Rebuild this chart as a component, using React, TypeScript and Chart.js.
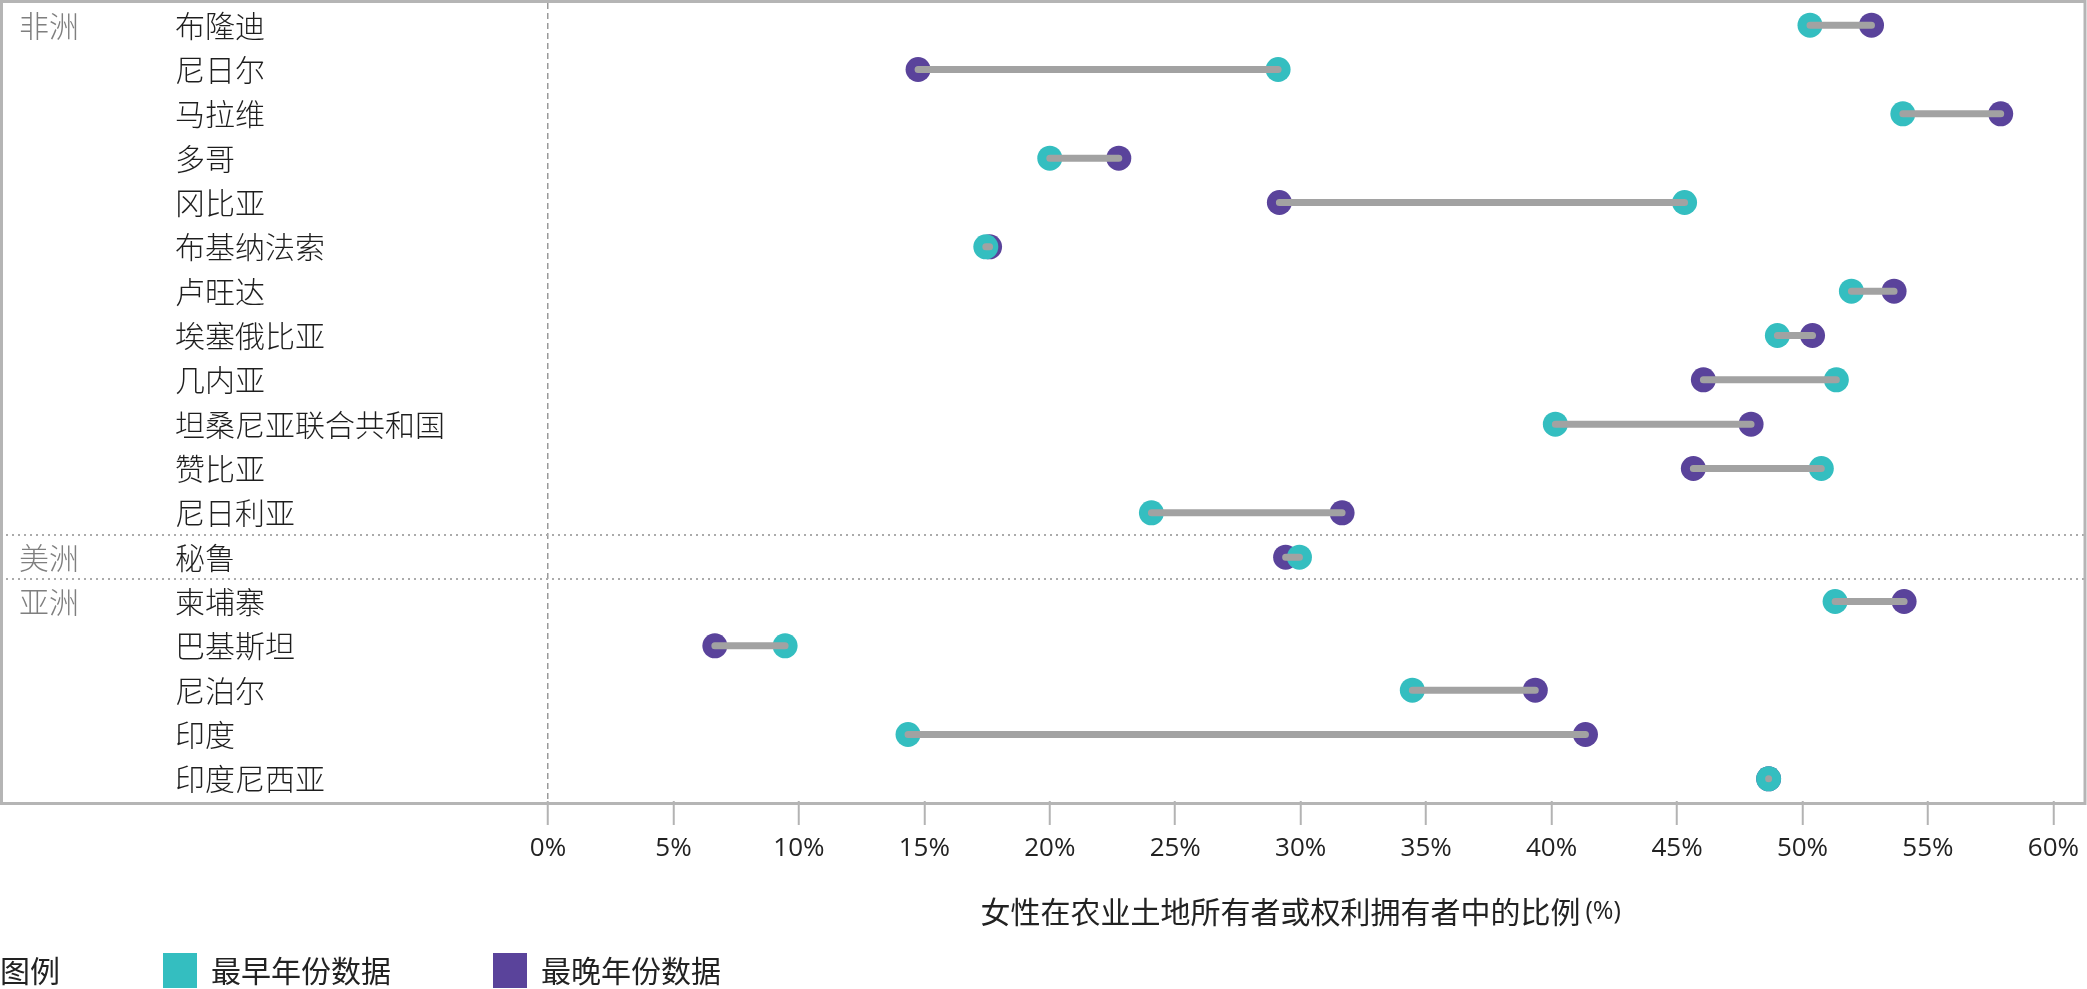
import React, { useEffect, useRef } from 'react';
import { Chart, registerables } from 'chart.js';

Chart.register(...registerables);

// ---------- data ----------
const regions = ['非洲', '美洲', '亚洲'];
const regionStartRows = [0, 12, 13];
const countries = [
  '布隆迪', '尼日尔', '马拉维', '多哥', '冈比亚', '布基纳法索', '卢旺达', '埃塞俄比亚', '几内亚',
  '坦桑尼亚联合共和国', '赞比亚', '尼日利亚', '秘鲁', '柬埔寨', '巴基斯坦', '尼泊尔', '印度', '印度尼西亚',
];
const earliestValues = [50.3, 29.1, 54.0, 20.0, 45.3, 17.45, 51.95, 49.0, 51.35, 40.15, 50.75, 24.05, 29.95, 51.3, 9.45, 34.45, 14.35, 48.65];
const latestValues = [52.75, 14.75, 57.9, 22.75, 29.15, 17.6, 53.65, 50.4, 46.05, 47.95, 45.65, 31.65, 29.4, 54.05, 6.65, 39.35, 41.35, 48.65];
const xTickValues = [0, 5, 10, 15, 20, 25, 30, 35, 40, 45, 50, 55, 60];
const seriesNames = ['最早年份数据', '最晚年份数据'];
const legendTitle = '图例';
const axisTitle = '女性在农业土地所有者或权利拥有者中的比例';
const axisTitleUnit = '(%)';

// ---------- style ----------
const TEAL = '#34BEC0';
const PURPLE = '#5A439B';
const CONNECTOR = '#A2A2A2';
const FRAME = '#B5B5B5';
const CJK = "'Noto Sans CJK SC', 'Noto Sans', sans-serif";
const LATIN = "'Open Sans', 'Noto Sans', sans-serif";
const W = 2087;
const H = 989;

const decorPlugin = {
  id: 'decor',
  beforeDatasetsDraw(chart: any) {
    const { ctx, scales } = chart;
    const y = scales.y;
    ctx.save();
    ctx.strokeStyle = '#ABABAB';
    ctx.lineWidth = 2;
    ctx.setLineDash([2, 4]);
    regionStartRows.slice(1).forEach((r) => {
      const py = Math.round(y.getPixelForValue(r - 0.5));
      ctx.beginPath();
      ctx.moveTo(0, py);
      ctx.lineTo(2085, py);
      ctx.stroke();
    });
    ctx.restore();
  },
  afterDraw(chart: any) {
    const { ctx, chartArea } = chart;
    ctx.save();
    // frame
    ctx.strokeStyle = FRAME;
    ctx.lineWidth = 3;
    const top = chartArea.top - 1.5;
    const bottom = chartArea.bottom + 2.5;
    ctx.strokeRect(1.5, top, 2085 - 1.5, bottom - top);

    // axis title (two sizes)
    ctx.textBaseline = 'middle';
    ctx.fillStyle = '#222';
    ctx.font = `30px ${CJK}`;
    const w1 = ctx.measureText(axisTitle).width;
    ctx.font = `25px ${LATIN}`;
    const w2 = ctx.measureText(axisTitleUnit).width;
    const gap = 5;
    const cx = (chartArea.left + chartArea.right) / 2;
    const startX = cx - (w1 + gap + w2) / 2;
    const ty = 912;
    ctx.textAlign = 'left';
    ctx.font = `30px ${CJK}`;
    ctx.fillText(axisTitle, startX, ty);
    ctx.font = `25px ${LATIN}`;
    ctx.fillText(axisTitleUnit, startX + w1 + gap, ty);

    // legend
    const ly = 971;
    ctx.font = `30px ${CJK}`;
    ctx.fillStyle = '#222';
    ctx.fillText(legendTitle, 0, ly);
    const items = chart.data.datasets.filter((d: any) => d.label);
    const itemX = [163, 493];
    items.forEach((d: any, i: number) => {
      const x = itemX[i];
      ctx.fillStyle = d.backgroundColor;
      ctx.fillRect(x, ly - 18, 34, 35);
      ctx.fillStyle = '#222';
      ctx.fillText(d.label, x + 48, ly);
    });
    ctx.restore();
  },
};

export default function App() {
  const canvasRef = useRef<HTMLCanvasElement | null>(null);

  useEffect(() => {
    const canvas = canvasRef.current;
    if (!canvas) return;

    const connectorData: any[] = [];
    countries.forEach((_, i) => {
      connectorData.push({ x: earliestValues[i], y: i });
      connectorData.push({ x: latestValues[i], y: i });
      connectorData.push({ x: null, y: i });
    });

    const fitY = (width: number) => (axis: any) => {
      axis.width = width;
      axis.paddingTop = 0;
      axis.paddingBottom = 0;
    };

    const chart = new Chart(canvas, {
      type: 'scatter',
      data: {
        datasets: [
          {
            type: 'line',
            label: '',
            data: connectorData,
            borderColor: CONNECTOR,
            backgroundColor: CONNECTOR,
            borderWidth: 7,
            borderCapStyle: 'round',
            pointRadius: 0,
            pointHoverRadius: 0,
            spanGaps: false,
            order: 0,
          } as any,
          {
            label: seriesNames[0],
            data: earliestValues.map((v, i) => ({ x: v, y: i })),
            backgroundColor: TEAL,
            borderColor: TEAL,
            pointRadius: 12.5,
            pointHoverRadius: 12.5,
            pointBorderWidth: 0,
            order: 1,
          },
          {
            label: seriesNames[1],
            data: latestValues.map((v, i) => ({ x: v, y: i })),
            backgroundColor: PURPLE,
            borderColor: PURPLE,
            pointRadius: 12.5,
            pointHoverRadius: 12.5,
            pointBorderWidth: 0,
            order: 2,
          },
        ],
      },
      options: {
        animation: false,
        responsive: false,
        devicePixelRatio: 1,
        events: [],
        layout: { autoPadding: false, padding: { left: 19, right: 30, top: 3, bottom: 0 } },
        plugins: {
          legend: { display: false },
          tooltip: { enabled: false },
        },
        scales: {
          x: {
            type: 'linear',
            position: 'bottom',
            min: 0,
            max: 60,
            afterBuildTicks: (axis: any) => {
              axis.ticks = xTickValues.map((v) => ({ value: v }));
            },
            afterFit: (axis: any) => {
              axis.height = 188;
            },
            ticks: {
              autoSkip: false,
              maxRotation: 0,
              padding: 8,
              color: '#222',
              font: { family: LATIN, size: 26 },
              callback: (v: any) => `${v}%`,
            },
            grid: {
              color: (c: any) => (c.tick && c.tick.value === 0 ? '#9A9A9A' : 'rgba(0,0,0,0)'),
              lineWidth: 1.5,
              tickColor: '#B3B3B3',
              tickWidth: 2,
              tickLength: 24,
              tickBorderDash: [],
            },
            border: { display: false, dash: [6, 4] },
          },
          y: {
            type: 'linear',
            position: 'left',
            reverse: true,
            min: -0.5,
            max: countries.length - 0.5,
            weight: 0,
            afterBuildTicks: (axis: any) => {
              axis.ticks = countries.map((_, i) => ({ value: i }));
            },
            afterFit: fitY(373),
            ticks: {
              autoSkip: false,
              crossAlign: 'far',
              padding: 0,
              color: '#1E1E1E',
              font: { family: CJK, size: 30, weight: '300' },
              callback: (v: any) => countries[v] ?? '',
            },
            grid: { display: false, drawTicks: false },
            border: { display: false },
          },
          yRegion: {
            type: 'linear',
            position: 'left',
            reverse: true,
            min: -0.5,
            max: countries.length - 0.5,
            weight: 1,
            afterBuildTicks: (axis: any) => {
              axis.ticks = regionStartRows.map((r) => ({ value: r }));
            },
            afterFit: fitY(156),
            ticks: {
              autoSkip: false,
              crossAlign: 'far',
              padding: 0,
              color: '#7F7F7F',
              font: { family: CJK, size: 30, weight: '300' },
              callback: (v: any) => {
                const idx = regionStartRows.indexOf(v);
                return idx >= 0 ? regions[idx] : '';
              },
            },
            grid: { display: false, drawTicks: false },
            border: { display: false },
          },
        },
      } as any,
      plugins: [decorPlugin],
    });

    return () => chart.destroy();
  }, []);

  return (
    <div style={{ position: 'absolute', left: 0, top: 0, width: W, height: H, background: '#fff' }}>
      <canvas ref={canvasRef} width={W} height={H} style={{ display: 'block', width: W, height: H }} />
    </div>
  );
}
